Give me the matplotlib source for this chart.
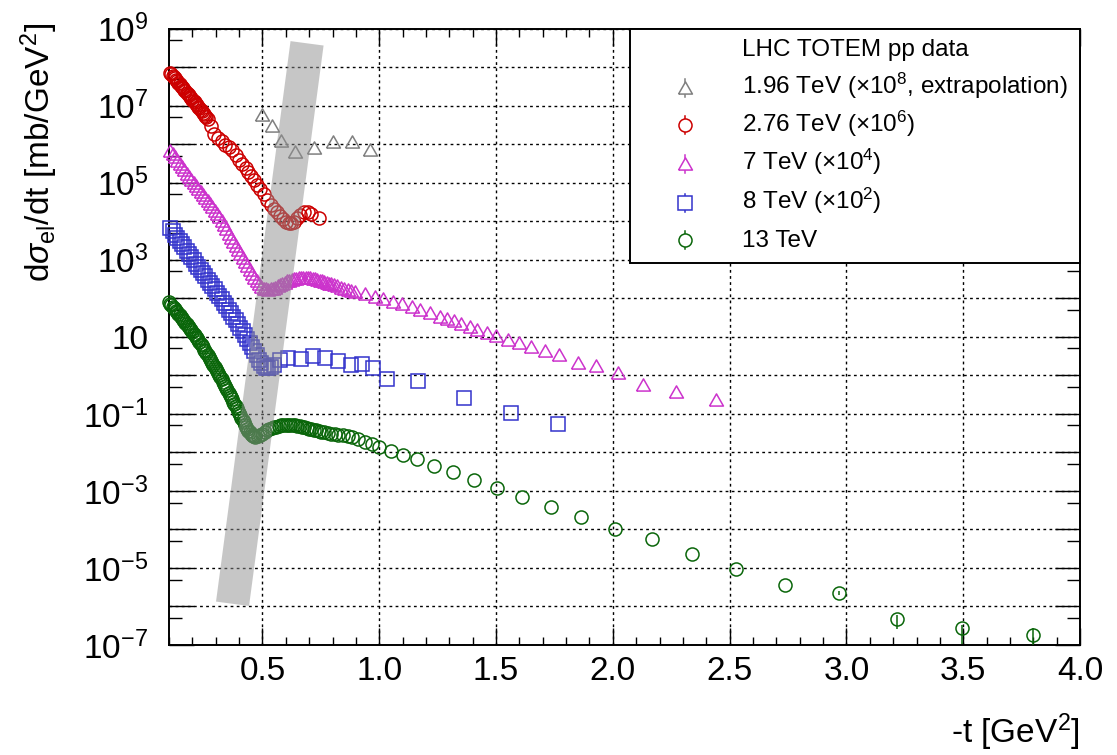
#!/usr/bin/env python3
"""Elastic pp differential cross sections measured by TOTEM at the LHC."""
import numpy as np
import matplotlib
matplotlib.use('Agg')
import matplotlib.pyplot as plt
from matplotlib.patches import Rectangle
from matplotlib.ticker import FixedLocator, FuncFormatter, MultipleLocator, NullFormatter

plt.rcParams['font.family'] = ['Liberation Sans', 'DejaVu Sans']
plt.rcParams['mathtext.fontset'] = 'custom'
plt.rcParams['mathtext.rm'] = 'Liberation Sans'
plt.rcParams['mathtext.it'] = 'Liberation Sans:italic'
plt.rcParams['mathtext.bf'] = 'Liberation Sans:bold'

# ---- data: -t [GeV^2] and log10(dsigma/dt) ----
# 1.96 TeV (x1e8, extrapolation)
t196 = [0.499, 0.540, 0.579, 0.641, 0.722, 0.801, 0.882, 0.960]
logy196 = [6.76, 6.48, 6.09, 5.79, 5.90, 6.05, 6.07, 5.85]

# 2.76 TeV (x1e6)
t276 = [0.105, 0.110, 0.115, 0.120, 0.125, 0.130, 0.135, 0.140, 0.145, 0.150,
        0.155, 0.160, 0.165, 0.170, 0.175, 0.180, 0.185, 0.190, 0.195, 0.200,
        0.205, 0.210, 0.215, 0.220, 0.225, 0.230, 0.235, 0.240, 0.245, 0.250,
        0.255, 0.260, 0.265, 0.278, 0.294, 0.310,
        0.325, 0.340, 0.355, 0.370, 0.385, 0.400, 0.414, 0.428, 0.440, 0.452,
        0.465, 0.478, 0.490, 0.505, 0.520, 0.535, 0.548, 0.561, 0.575, 0.588,
        0.600, 0.612, 0.624, 0.636, 0.648, 0.662, 0.680, 0.695, 0.710, 0.740]
logy276 = [7.85, 7.815, 7.78, 7.745, 7.71, 7.67, 7.63, 7.595, 7.56, 7.525,
           7.49, 7.45, 7.41, 7.375, 7.34, 7.305, 7.27, 7.23, 7.19, 7.155,
           7.12, 7.085, 7.05, 7.01, 6.97, 6.935, 6.90, 6.86, 6.82, 6.78,
           6.74, 6.695, 6.65, 6.47, 6.26, 6.16,
           6.08, 5.98, 5.92, 5.84, 5.72, 5.60, 5.50, 5.38, 5.28, 5.17,
           5.07, 4.93, 4.84, 4.70, 4.56, 4.43, 4.33, 4.25, 4.15, 4.06,
           3.99, 3.95, 3.95, 3.99, 4.08, 4.17, 4.24, 4.24, 4.19, 4.08]

# 7 TeV (x1e4)
t7 = [0.105, 0.115, 0.125, 0.135, 0.145, 0.155, 0.165, 0.175, 0.185, 0.195,
      0.205, 0.215, 0.225, 0.235, 0.245, 0.255, 0.265, 0.275, 0.285, 0.295,
      0.305, 0.315, 0.325, 0.335, 0.345, 0.355, 0.365, 0.375, 0.385, 0.395,
      0.405, 0.415, 0.425, 0.435, 0.445, 0.455, 0.465, 0.475, 0.485, 0.495,
      0.505, 0.515, 0.525, 0.535, 0.545, 0.555, 0.565, 0.575, 0.585, 0.595,
      0.605, 0.615, 0.625, 0.635, 0.645, 0.655, 0.665, 0.675, 0.685, 0.695,
      0.705, 0.715, 0.725, 0.735, 0.745, 0.755, 0.765, 0.775, 0.785, 0.795,
      0.805, 0.820, 0.835, 0.850, 0.865, 0.880, 0.896, 0.939, 0.981, 1.015,
      1.058, 1.097, 1.139, 1.174, 1.217, 1.260, 1.290, 1.320, 1.350, 1.390,
      1.420, 1.460, 1.500, 1.550, 1.600, 1.650, 1.710, 1.770, 1.850, 1.930,
      2.020, 2.130, 2.270, 2.440]
logy7 = [5.82, 5.74, 5.66, 5.57, 5.49, 5.40, 5.32, 5.24, 5.16, 5.07,
         4.99, 4.91, 4.83, 4.76, 4.68, 4.60, 4.52, 4.44, 4.36, 4.28,
         4.20, 4.10, 4.00, 3.90, 3.79, 3.68, 3.57, 3.46, 3.36, 3.26,
         3.16, 3.05, 2.95, 2.84, 2.74, 2.63, 2.53, 2.44, 2.36, 2.30,
         2.25, 2.23, 2.22, 2.23, 2.25, 2.28, 2.31, 2.35, 2.38, 2.41,
         2.44, 2.46, 2.48, 2.50, 2.51, 2.52, 2.53, 2.53, 2.53, 2.52,
         2.52, 2.51, 2.49, 2.48, 2.46, 2.44, 2.42, 2.40, 2.38, 2.36,
         2.34, 2.31, 2.28, 2.25, 2.22, 2.20, 2.17, 2.10, 2.03, 1.97,
         1.91, 1.86, 1.78, 1.70, 1.61, 1.52, 1.46, 1.41, 1.34, 1.25,
         1.19, 1.11, 1.02, 0.91, 0.85, 0.73, 0.64, 0.53, 0.32, 0.25,
         0.07, -0.25, -0.42, -0.65]

# 8 TeV (x1e2)
t8 = [0.105, 0.115, 0.125, 0.135, 0.145, 0.155, 0.165, 0.175, 0.185, 0.195,
      0.205, 0.215, 0.225, 0.235, 0.245, 0.255, 0.265, 0.275, 0.285, 0.295,
      0.305, 0.315, 0.325, 0.335, 0.345, 0.355, 0.365, 0.375, 0.385, 0.395,
      0.405, 0.415, 0.425, 0.435, 0.445, 0.455, 0.465, 0.475, 0.485, 0.495,
      0.505, 0.515, 0.525, 0.535, 0.550, 0.575, 0.611, 0.664, 0.718, 0.768,
      0.825, 0.879, 0.925, 0.972, 1.035, 1.165, 1.364, 1.564, 1.764]
logy8 = [3.82, 3.74, 3.65, 3.57, 3.49, 3.40, 3.32, 3.24, 3.15, 3.07,
         2.99, 2.90, 2.82, 2.74, 2.65, 2.57, 2.48, 2.40, 2.31, 2.23,
         2.14, 2.05, 1.97, 1.88, 1.79, 1.70, 1.61, 1.52, 1.43, 1.33,
         1.24, 1.14, 1.04, 0.94, 0.84, 0.74, 0.63, 0.52, 0.41, 0.32,
         0.24, 0.20, 0.19, 0.22, 0.28, 0.40, 0.45, 0.42, 0.49, 0.45,
         0.36, 0.27, 0.29, 0.19, -0.10, -0.14, -0.59, -0.97, -1.26]

# 13 TeV
t13 = [0.100, 0.105, 0.110, 0.115, 0.120, 0.125, 0.130, 0.135, 0.140, 0.145,
       0.150, 0.155, 0.160, 0.165, 0.170, 0.175, 0.180, 0.185, 0.190, 0.195,
       0.200, 0.205, 0.210, 0.215, 0.220, 0.225, 0.230, 0.235, 0.240, 0.245,
       0.250, 0.255, 0.260, 0.265, 0.270, 0.275, 0.280, 0.285, 0.290, 0.295,
       0.300, 0.305, 0.310, 0.315, 0.320, 0.325, 0.330, 0.335, 0.340, 0.345,
       0.350, 0.355, 0.360, 0.365, 0.370, 0.375, 0.380, 0.385, 0.390, 0.395,
       0.400, 0.405, 0.410, 0.415, 0.420, 0.425, 0.430, 0.435, 0.440, 0.445,
       0.450, 0.455, 0.460, 0.465, 0.470, 0.480, 0.490,
       0.500, 0.510, 0.520, 0.530, 0.540, 0.550, 0.560, 0.570, 0.580, 0.590,
       0.600, 0.610, 0.620, 0.630, 0.640, 0.650, 0.660, 0.670, 0.680, 0.690,
       0.700, 0.710, 0.720, 0.730, 0.740, 0.750, 0.765, 0.780, 0.795, 0.810,
       0.825, 0.845, 0.865, 0.885, 0.910, 0.940, 0.970, 1.000, 1.050, 1.100,
       1.160, 1.234, 1.317, 1.405, 1.505, 1.613, 1.735, 1.864, 2.009, 2.166,
       2.337, 2.527, 2.739, 2.967, 3.218, 3.495, 3.800]
logy13 = [1.90, 1.86, 1.82, 1.785, 1.75, 1.71, 1.67, 1.635, 1.60, 1.56,
          1.52, 1.48, 1.44, 1.405, 1.37, 1.33, 1.29, 1.25, 1.21, 1.17,
          1.13, 1.085, 1.04, 1.00, 0.96, 0.915, 0.87, 0.825, 0.78, 0.725,
          0.67, 0.62, 0.57, 0.52, 0.47, 0.42, 0.37, 0.32, 0.27, 0.22,
          0.17, 0.115, 0.06, 0.005, -0.05, -0.105, -0.16, -0.215, -0.27, -0.33,
          -0.39, -0.445, -0.50, -0.56, -0.62, -0.68, -0.74, -0.80, -0.86, -0.915,
          -0.97, -1.035, -1.10, -1.16, -1.22, -1.28, -1.34, -1.39, -1.44, -1.48,
          -1.52, -1.545, -1.57, -1.58, -1.59, -1.58, -1.55,
          -1.51, -1.47, -1.43, -1.40, -1.37, -1.35, -1.33, -1.31, -1.30, -1.29,
          -1.285, -1.285, -1.29, -1.29, -1.30, -1.31, -1.32, -1.33, -1.34, -1.36,
          -1.38, -1.40, -1.41, -1.43, -1.45, -1.46, -1.48, -1.50, -1.52, -1.53,
          -1.545, -1.56, -1.58, -1.61, -1.66, -1.72, -1.79, -1.85, -1.97, -2.06,
          -2.18, -2.35, -2.52, -2.71, -2.93, -3.15, -3.41, -3.68, -3.99, -4.25,
          -4.63, -5.02, -5.43, -5.66, -6.32, -6.57, -6.74]
# visible error bars of the last 13 TeV points (decades below / above)
err13_lo = [0.05, 0.26, 0.40, 0.50]
err13_hi = [0.05, 0.10, 0.10, 0.19]

# grey band marking the dip position (centre line end points)
band_t = [0.372, 0.691]
band_logy = [-5.93, 8.62]

legend_title = 'LHC TOTEM pp data'
legend_labels = [r'1.96 TeV ($\times$10$^{8}$, extrapolation)',
                 r'2.76 TeV ($\times$10$^{6}$)',
                 r'7 TeV ($\times$10$^{4}$)',
                 r'8 TeV ($\times$10$^{2}$)',
                 '13 TeV']

TRI = [(-1, -0.8), (1, -0.8), (0, 0.95), (-1, -0.8)]
styles = [('#7f7f7f', TRI, 10.0),
          ('#cc0000', 'o', 9.4),
          ('#cc33cc', TRI, 10.0),
          ('#3333cc', 's', 9.4),
          ('#0a660a', 'o', 9.4)]

fig = plt.figure(figsize=(11.17, 7.55), dpi=100)
ax = fig.add_axes([0.1513, 0.1457, 0.8156, 0.8163])
ax.set_yscale('log')
ax.set_xlim(0.1, 4.0)
ax.set_ylim(1e-7, 1e9)

series = [(t196, logy196), (t276, logy276), (t7, logy7), (t8, logy8), (t13, logy13)]
for i, ((t, ly), (col, mk, ms)) in enumerate(zip(series, styles)):
    ly = np.asarray(ly, dtype=float)
    y = np.power(10.0, ly)
    lo = np.zeros_like(y)
    hi = np.zeros_like(y)
    if i == 4:
        n = len(err13_lo)
        lo[-n:] = y[-n:] - np.power(10.0, ly[-n:] - np.asarray(err13_lo))
        hi[-n:] = np.power(10.0, ly[-n:] + np.asarray(err13_hi)) - y[-n:]
    ax.errorbar(t, y, yerr=[lo, hi], fmt='none', ecolor=col, elinewidth=1.1,
                capsize=0, zorder=3)
    ax.plot(t, y, linestyle='none', marker=mk, ms=ms, mfc='none', mec=col,
            mew=1.1, zorder=4, clip_on=False)

# grey band, semi transparent on top of the points
ax.plot(band_t, np.power(10.0, band_logy), color='#8f8f8f', alpha=0.5, lw=24,
        solid_capstyle='butt', zorder=6)

# axes: ticks, grid, labels
ax.xaxis.set_major_locator(MultipleLocator(0.5))
ax.xaxis.set_minor_locator(MultipleLocator(0.1))
ax.xaxis.set_major_formatter(FuncFormatter(lambda v, p: '%.1f' % v))

ax.yaxis.set_major_locator(FixedLocator([10.0 ** k for k in range(-7, 10)]))
ax.yaxis.set_minor_locator(FixedLocator([5 * 10.0 ** k for k in range(-8, 9)]))
ax.yaxis.set_minor_formatter(NullFormatter())


def ylab(v, pos):
    k = int(round(np.log10(v)))
    if k % 2 == 0:
        return ''
    if k == 1:
        return '10'
    return r'$10^{%d}$' % k


ax.yaxis.set_major_formatter(FuncFormatter(ylab))

ax.tick_params(which='both', direction='in', top=True, right=True,
               labelsize=24, width=1.0, color='black')
ax.tick_params(axis='x', which='major', length=12, pad=8)
ax.tick_params(axis='x', which='minor', length=6)
ax.tick_params(axis='y', which='major', length=18, pad=15)
ax.tick_params(axis='y', which='minor', length=9.4)

for sp in ax.spines.values():
    sp.set_linewidth(1.4)

ax.grid(True, which='major', color='black', linestyle=(0, (2.0, 2.4)),
        linewidth=1.0, zorder=1)
ax.set_axisbelow(True)

ax.set_xlabel('-t [GeV$^{2}$]', fontsize=24, loc='right')
ax.xaxis.set_label_coords(1.0, -0.108)
ax.set_ylabel(r'd$\sigma_{\mathrm{el}}$/dt [mb/GeV$^{2}$]', fontsize=24, loc='top')
ax.yaxis.set_label_coords(-0.12, 1.01)

# legend box drawn by hand to keep the ROOT layout
ax.add_patch(Rectangle((0.506, 0.6195), 0.494, 0.3805, transform=ax.transAxes,
                       facecolor='white', edgecolor='black', lw=1.4,
                       zorder=10, clip_on=False))
row_base = [0.9552, 0.8936, 0.8325, 0.7703, 0.7071, 0.6460]
ax.text(0.6287, row_base[0], legend_title, transform=ax.transAxes,
        fontsize=17.5, va='baseline', ha='left', zorder=11)
for (col, mk, ms), lab, yb in zip(styles, legend_labels, row_base[1:]):
    ym = yb + 6.5 / 616.6
    ax.plot([0.5664, 0.5664], [ym - 0.0146, ym + 0.0146], color=col, lw=1.1,
            transform=ax.transAxes, zorder=11, clip_on=False)
    ax.plot([0.5664], [ym], linestyle='none', marker=mk, ms=ms, mfc='white',
            mec=col, mew=1.1, transform=ax.transAxes, zorder=12, clip_on=False)
    ax.text(0.6287, yb, lab, transform=ax.transAxes, fontsize=17.5,
            va='baseline', ha='left', zorder=11)

fig.savefig('out.png', dpi=100)
